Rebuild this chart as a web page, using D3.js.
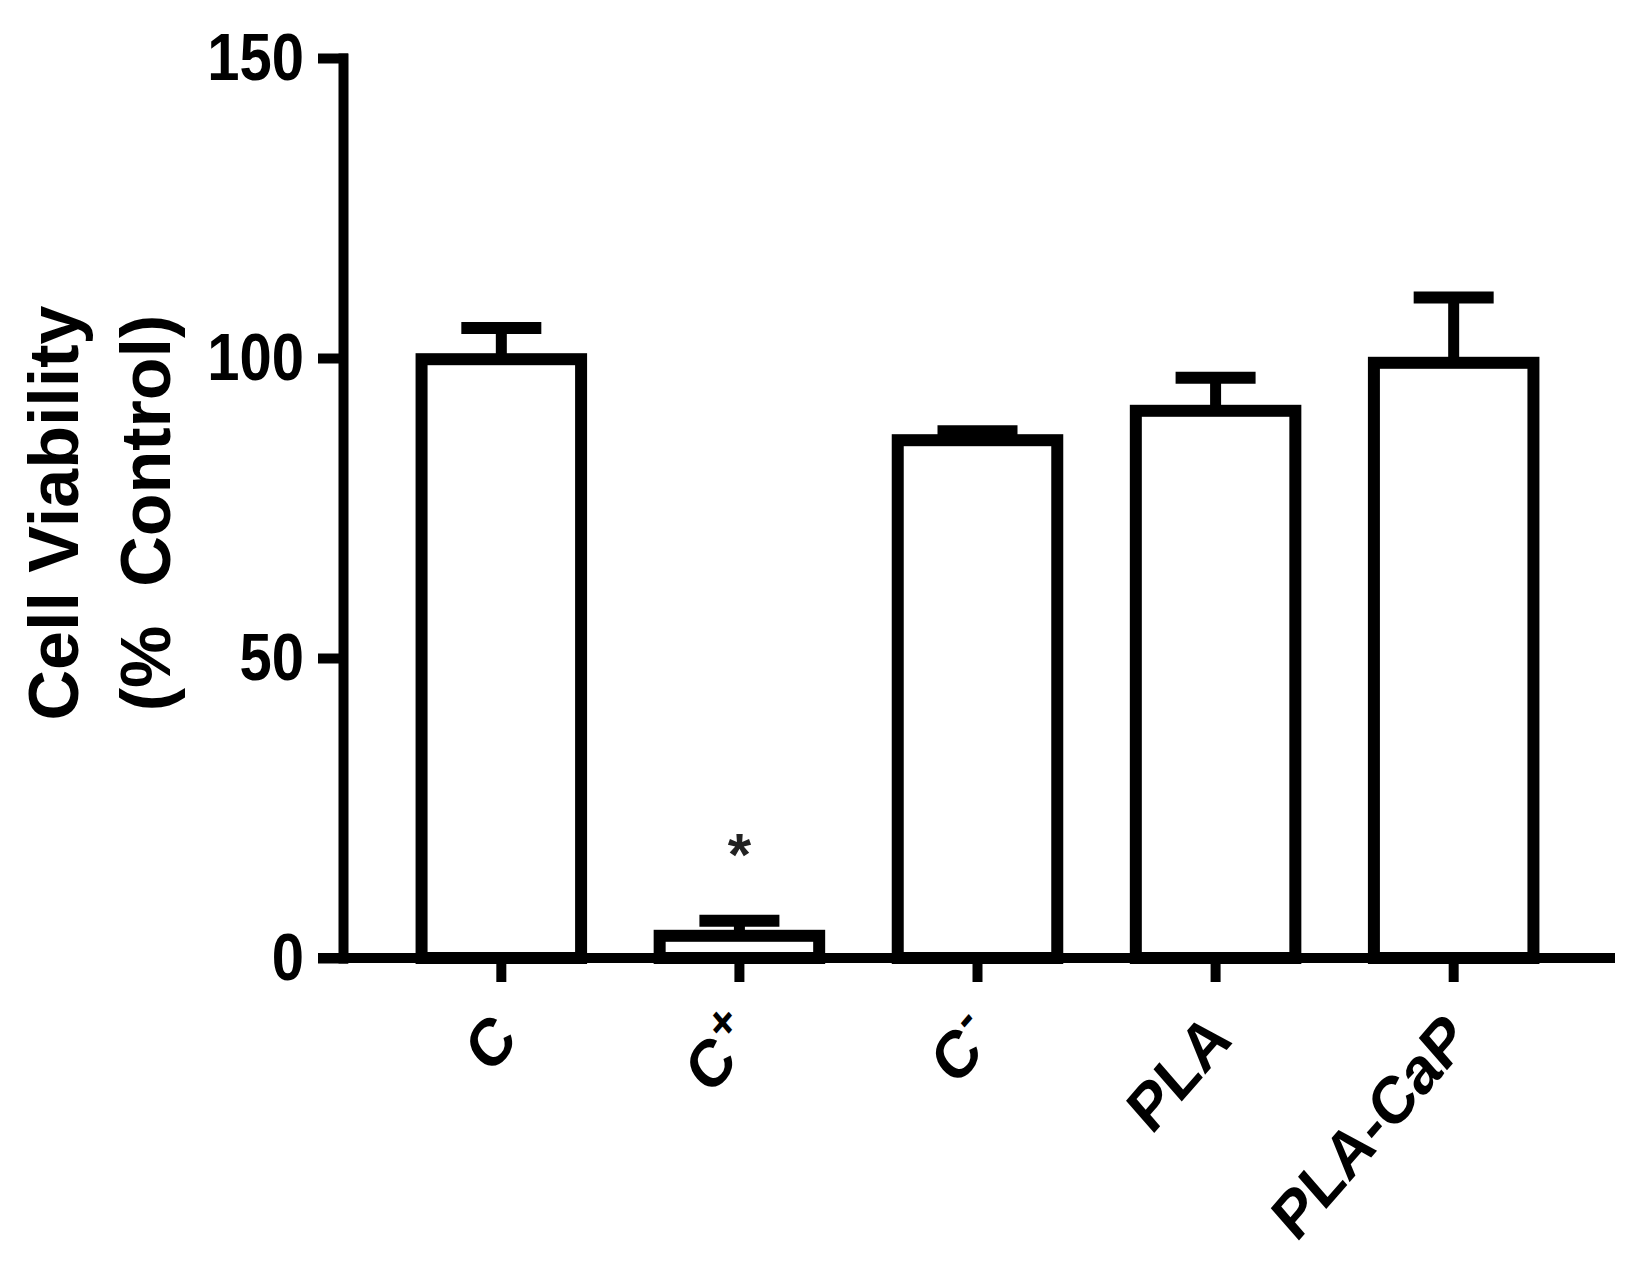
<!DOCTYPE html>
<html>
<head>
<meta charset="utf-8">
<script src="https://cdn.jsdelivr.net/npm/d3@7"></script>
<style>
  html, body { margin: 0; padding: 0; background: #fff; }
  svg text { font-family: "Liberation Sans", Arial, sans-serif; font-weight: bold; }
</style>
</head>
<body>
<div id="chart"></div>
<script>
// values
var categories = ["C", "C+", "C-", "PLA", "PLA-CaP"];
var means = [99.8, 3.7, 86.3, 91.2, 99.2];
var sds = [5.2, 2.5, 1.5, 5.5, 10.9];
var yTicks = [0, 50, 100, 150];
var starred = ["C+"];

var WIDTH = 1634, HEIGHT = 1271;
var STRETCH = 1.15; // the source figure is a bit taller than wide

var svg = d3.select("#chart").append("svg")
    .attr("width", WIDTH)
    .attr("height", HEIGHT);

var x = d3.scaleBand()
    .domain(categories)
    .range([343, 1612])
    .padding(0.33);

var y = d3.scaleLinear()
    .domain([0, 150])
    .range([958, 58]);

var bars = categories.map(function (c, i) {
    return { cat: c, mean: means[i], sd: sds[i] };
});

// bars
svg.append("g").attr("id", "bars")
    .selectAll("rect")
    .data(bars).enter()
    .append("rect")
    .attr("x", function (d) { return x(d.cat); })
    .attr("y", function (d) { return y(d.mean); })
    .attr("width", x.bandwidth())
    .attr("height", function (d) { return y(0) - y(d.mean); })
    .attr("fill", "#fff")
    .attr("stroke", "#000")
    .attr("stroke-width", 12);

// error bars (upper only)
var err = svg.append("g").attr("id", "errors");
err.selectAll("line.stem")
    .data(bars).enter()
    .append("line")
    .attr("class", "stem")
    .attr("x1", function (d) { return x(d.cat) + x.bandwidth() / 2; })
    .attr("x2", function (d) { return x(d.cat) + x.bandwidth() / 2; })
    .attr("y1", function (d) { return y(d.mean); })
    .attr("y2", function (d) { return y(d.mean + d.sd); })
    .attr("stroke", "#000")
    .attr("stroke-width", 11);
err.selectAll("line.cap")
    .data(bars).enter()
    .append("line")
    .attr("class", "cap")
    .attr("x1", function (d) { return x(d.cat) + x.bandwidth() / 2 - 40; })
    .attr("x2", function (d) { return x(d.cat) + x.bandwidth() / 2 + 40; })
    .attr("y1", function (d) { return y(d.mean + d.sd); })
    .attr("y2", function (d) { return y(d.mean + d.sd); })
    .attr("stroke", "#000")
    .attr("stroke-width", 12);

// significance star
svg.append("g").attr("id", "stars")
    .selectAll("text")
    .data(bars.filter(function (d) { return starred.indexOf(d.cat) >= 0; }))
    .enter().append("text")
    .attr("x", function (d) { return x(d.cat) + x.bandwidth() / 2; })
    .attr("y", function (d) { return y(d.mean + d.sd) - 46; })
    .attr("text-anchor", "middle")
    .attr("font-size", 60)
    .attr("fill", "#222")
    .text("*");

// y axis
var yAxis = svg.append("g")
    .attr("transform", "translate(343,0)")
    .call(d3.axisLeft(y).tickValues(yTicks).tickSize(20).tickSizeOuter(0).tickPadding(19));
yAxis.select(".domain").attr("stroke-width", 10).attr("stroke-linecap", "square");
yAxis.selectAll(".tick line").attr("stroke-width", 10).attr("stroke-linecap", "square");
yAxis.selectAll(".tick text")
    .attr("font-size", 58)
    .attr("fill", "#000")
    .attr("transform", "scale(1," + STRETCH + ")");

// x axis
var xAxis = svg.append("g")
    .attr("transform", "translate(0,958)")
    .call(d3.axisBottom(x).tickSize(19).tickSizeOuter(0));
xAxis.select(".domain")
    .attr("d", "M323,0H1610")
    .attr("stroke-width", 10)
    .attr("stroke-linecap", "square");
xAxis.selectAll(".tick line").attr("stroke-width", 10).attr("stroke-linecap", "square");
xAxis.selectAll(".tick text").each(function (d) {
    var t = d3.select(this);
    var last = d.slice(-1);
    t.text(null)
        .attr("x", 0).attr("y", 0).attr("dy", null)
        .attr("font-size", 58)
        .attr("fill", "#000")
        .attr("text-anchor", "end")
        .attr("transform", "translate(18,84) scale(1," + STRETCH + ") rotate(-45)");
    if (d.length > 1 && (last === "+" || last === "-")) {
        t.append("tspan").text(d.slice(0, -1));
        t.append("tspan").attr("font-size", 44).attr("dy", -22).text(last);
    } else {
        t.text(d);
    }
});

// y title, two lines
var title = svg.append("text")
    .attr("transform", "translate(78,513) rotate(-90)")
    .attr("text-anchor", "middle")
    .attr("font-size", 70)
    .attr("fill", "#000");
title.append("tspan").attr("x", 0).attr("y", 0).text("Cell Viability");
title.append("tspan").attr("x", 0).attr("y", 0).attr("dy", 92).attr("xml:space", "preserve").text("(%  Control)");
</script>
</body>
</html>
